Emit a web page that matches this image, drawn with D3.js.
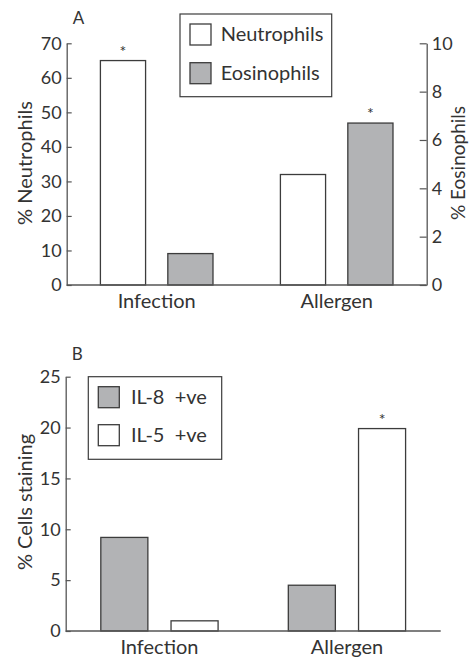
<!DOCTYPE html>
<html>
<head>
<meta charset="utf-8">
<script src="https://cdn.jsdelivr.net/npm/d3@7"></script>
<style>
  body { margin: 0; background: #fff; }
  svg text { font-family: 'Lato', 'Open Sans', sans-serif; fill: #333; }
</style>
</head>
<body>
<svg id="chart" width="469" height="660"></svg>
<script>
var categories = ['Infection', 'Allergen'];

// panel A
var neutrophils = [65, 32];
var eosinophils = [1.3, 6.7];
var neutroTicks = [0, 10, 20, 30, 40, 50, 60, 70];
var eosTicks = [0, 2, 4, 6, 8, 10];
var starsA = [[true, false], [false, true]];

// panel B
var il8 = [9.2, 4.5];
var il5 = [1.0, 19.9];
var cellTicks = [0, 5, 10, 15, 20, 25];
var starsB = [[false, false], [false, true]];

var GREY = '#b2b3b5';
var EDGE = '#3c3c3c';
var AXIS = '#555';

var svg = d3.select('#chart');

function drawPanel(opts){
  var g = svg.append('g');

  var x = d3.scaleBand()
    .domain(categories)
    .range([opts.left, opts.right]);

  var sub = d3.scaleBand()
    .domain(d3.range(opts.series.length))
    .range([0, x.bandwidth()])
    .paddingInner(0.33)
    .paddingOuter(0.5);

  // bars
  opts.series.forEach(function(s, si){
    var pts = s.values.map(function(v, i){
      return { cat: categories[i], value: v, star: opts.stars[i][si] };
    });

    g.selectAll('rect.s' + si)
      .data(pts)
      .enter().append('rect')
      .attr('class', 's' + si)
      .attr('x', function(d){ return x(d.cat) + sub(si); })
      .attr('width', sub.bandwidth())
      .attr('y', function(d){ return s.scale(d.value); })
      .attr('height', function(d){ return s.scale(0) - s.scale(d.value); })
      .attr('fill', s.fill)
      .attr('stroke', EDGE)
      .attr('stroke-width', 1.3);

    g.selectAll('text.star' + si)
      .data(pts.filter(function(d){ return d.star; }))
      .enter().append('text')
      .attr('class', 'star' + si)
      .attr('x', function(d){ return x(d.cat) + sub(si) + sub.bandwidth() / 2; })
      .attr('y', function(d){ return s.scale(d.value) - 4; })
      .attr('text-anchor', 'middle')
      .style('font-size', '16px')
      .text('*');
  });

  // left axis, ticks pointing in
  var yl = opts.series[0].leftScale;
  var left = g.append('g')
    .attr('transform', 'translate(' + opts.left + ',0)')
    .call(d3.axisLeft(yl).tickValues(opts.leftTicks).tickSizeInner(-5).tickSizeOuter(0).tickPadding(5));
  styleAxis(left);

  if (opts.rightScale) {
    var right = g.append('g')
      .attr('transform', 'translate(' + opts.right + ',0)')
      .call(d3.axisRight(opts.rightScale).tickValues(opts.rightTicks).tickSizeInner(-7).tickSizeOuter(0).tickPadding(5));
    styleAxis(right);
  }

  // baseline
  g.append('line')
    .attr('x1', opts.left).attr('x2', opts.right)
    .attr('y1', yl(0)).attr('y2', yl(0))
    .attr('stroke', AXIS).attr('stroke-width', 1.3);

  g.selectAll('text.cat')
    .data(categories)
    .enter().append('text')
    .attr('class', 'cat')
    .attr('x', function(d){ return x(d) + x.bandwidth() / 2; })
    .attr('y', yl(0) + 23)
    .attr('text-anchor', 'middle')
    .style('font-size', '20px')
    .text(function(d){ return d; });

  // axis titles
  g.append('text')
    .attr('transform', 'translate(' + opts.titleX + ',' + opts.titleY + ') rotate(-90)')
    .attr('text-anchor', 'middle')
    .attr('dy', '0.35em')
    .style('font-size', '20px')
    .text(opts.leftTitle);

  if (opts.rightTitle) {
    g.append('text')
      .attr('transform', 'translate(' + opts.rightTitleX + ',' + opts.titleY + ') rotate(-90)')
      .attr('text-anchor', 'middle')
      .attr('dy', '0.35em')
      .style('font-size', '19px')
      .text(opts.rightTitle);
  }

  g.append('text')
    .attr('x', opts.left + 6)
    .attr('y', opts.letterY)
    .style('font-size', '17px')
    .text(opts.letter);

  // legend
  var lg = g.append('g');
  lg.append('rect')
    .attr('x', opts.legend.x).attr('y', opts.legend.y)
    .attr('width', opts.legend.w).attr('height', opts.legend.h)
    .attr('fill', '#fff').attr('stroke', EDGE).attr('stroke-width', 1.2);

  var items = lg.selectAll('g.item')
    .data(opts.series)
    .enter().append('g')
    .attr('class', 'item')
    .attr('transform', function(d, i){
      return 'translate(' + (opts.legend.x + 10) + ',' + (opts.legend.y + 10 + i * opts.legend.step) + ')';
    });

  items.append('rect')
    .attr('width', 21).attr('height', 21)
    .attr('fill', function(d){ return d.fill; })
    .attr('stroke', EDGE).attr('stroke-width', 1.3);

  items.append('text')
    .attr('x', opts.legend.textDx)
    .attr('y', 17)
    .style('font-size', '20px')
    .text(function(d){ return d.name; });
}

function styleAxis(sel){
  sel.select('.domain').attr('stroke', AXIS).attr('stroke-width', 1.3);
  sel.selectAll('.tick line').attr('stroke', AXIS).attr('stroke-width', 1.2);
  sel.selectAll('.tick text').style('font-size', '18px').style('font-family', "'Lato', sans-serif").attr('fill', '#333');
}

var yNeutro = d3.scaleLinear().domain([0, 70]).range([285, 43.3]);
var yEos = d3.scaleLinear().domain([0, 10]).range([285, 43.3]);

drawPanel({
  left: 66.7, right: 426.7,
  series: [
    { name: 'Neutrophils', values: neutrophils, scale: yNeutro, leftScale: yNeutro, fill: '#fff' },
    { name: 'Eosinophils', values: eosinophils, scale: yEos, fill: GREY }
  ],
  stars: starsA,
  leftTicks: neutroTicks,
  rightScale: yEos, rightTicks: eosTicks,
  leftTitle: '% Neutrophils', titleX: 25, titleY: 163,
  rightTitle: '% Eosinophils', rightTitleX: 458,
  letter: 'A', letterY: 24,
  legend: { x: 180, y: 14, w: 151.7, h: 82.7, step: 38.7, textDx: 30.7 }
});

var yCells = d3.scaleLinear().domain([0, 25]).range([631, 376.7]);

drawPanel({
  left: 65.7, right: 440.7,
  series: [
    { name: 'IL-8 \u00a0+ve', values: il8, scale: yCells, leftScale: yCells, fill: GREY },
    { name: 'IL-5 \u00a0+ve', values: il5, scale: yCells, fill: '#fff' }
  ],
  stars: starsB,
  leftTicks: cellTicks,
  leftTitle: '% Cells staining', titleX: 25, titleY: 502,
  letter: 'B', letterY: 360,
  legend: { x: 88.3, y: 376.7, w: 133.4, h: 82.6, step: 38, textDx: 32.7 }
});
</script>
</body>
</html>
